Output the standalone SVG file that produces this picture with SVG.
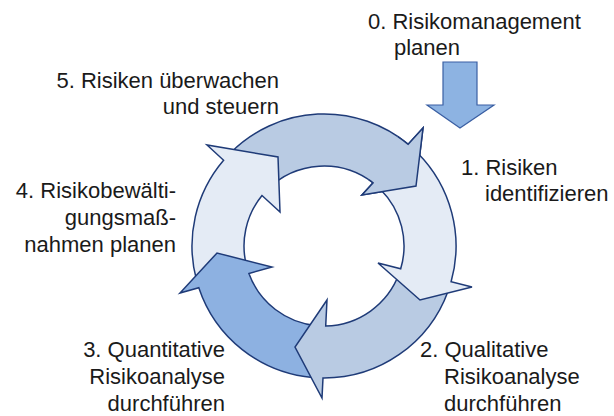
<svg xmlns="http://www.w3.org/2000/svg" width="614" height="416" viewBox="0 0 614 416">
<style>
.lbl{font-family:"Liberation Sans",Arial,sans-serif;font-size:22px;fill:#1a1a1a}
.r{text-anchor:end}
.arr{stroke:#1f3b78;stroke-width:1.5;stroke-linejoin:miter}
.med{fill:#b9cbe3}
.lite{fill:#e4ebf5}
.strong{fill:#8db1e1}
</style>
<rect width="614" height="416" fill="#ffffff"/>
<g id="connectors">
  <g id="arrow5">
    <path class="arr med" d="M 230.66 152.66 A 132 132 0 0 1 408.2 144.3 L 423 128 L 416 186 L 362 195 L 373.1 182.8 A 80 80 0 0 0 267.43 189.43 Z"/>
  </g>
  <g id="arrow4">
    <path class="arr lite" d="M 196.50 280.16 A 132 132 0 0 1 223.6 160.3 L 207 145 L 278 157 L 280 212 L 262.0 195.5 A 80 80 0 0 0 246.73 266.71 Z"/>
  </g>
  <g id="arrow3">
    <path class="arr strong" d="M 312.50 377.50 A 132 132 0 0 1 198.8 287.7 L 180 293 L 217 253 L 272 267 L 248.9 273.5 A 80 80 0 0 0 317.03 325.70 Z"/>
  </g>
  <g id="arrow2">
    <path class="arr med" d="M 448.04 291.15 A 132 132 0 0 1 323.0 378.0 L 322 398 L 295 347 L 327 300 L 325.7 326.0 A 80 80 0 0 0 399.18 273.36 Z"/>
  </g>
  <g id="arrow1">
    <path class="arr lite" d="M 417.34 152.66 A 132 132 0 0 1 451.1 281.7 L 472 287 L 420 300 L 378 263 L 400.7 268.8 A 80 80 0 0 0 380.57 189.43 Z"/>
  </g>
  <g id="arrow5-head">
    <path class="med" d="M 397.81 136.57 A 132 132 0 0 1 408.2 144.3 L 423 128 L 416 186 L 362 195 L 373.1 182.8 A 80 80 0 0 0 368.74 179.68 Z"/>
    <path class="arr" fill="none" d="M 397.81 136.57 A 132 132 0 0 1 408.2 144.3 L 423 128 L 416 186 L 362 195 L 373.1 182.8 A 80 80 0 0 0 368.74 179.68"/>
  </g>
  <g id="arrow0">
    <path d="M 443 62 L 477 62 L 477 105 L 494 105 L 460 128 L 427 105 L 443 105 Z" fill="#8db3e2" stroke="#3a5fa3" stroke-width="1.2"/>
  </g>
</g>
<g id="node0">
  <text class="lbl" x="368" y="29">0. Risikomanagement</text>
  <text class="lbl" x="394" y="55">planen</text>
</g>
<g id="node1">
  <text class="lbl" x="461" y="175">1. Risiken</text>
  <text class="lbl" x="485" y="201">identifizieren</text>
</g>
<g id="node2">
  <text class="lbl" x="420" y="357">2. Qualitative</text>
  <text class="lbl" x="444" y="384">Risikoanalyse</text>
  <text class="lbl" x="444" y="411">durchführen</text>
</g>
<g id="node3">
  <text class="lbl r" x="225" y="357">3. Quantitative</text>
  <text class="lbl r" x="225" y="384">Risikoanalyse</text>
  <text class="lbl r" x="225" y="411">durchführen</text>
</g>
<g id="node4">
  <text class="lbl r" x="176" y="198">4. Risikobewälti-</text>
  <text class="lbl r" x="176" y="225">gungsmaß-</text>
  <text class="lbl r" x="176" y="252">nahmen planen</text>
</g>
<g id="node5">
  <text class="lbl r" x="279" y="88">5. Risiken überwachen</text>
  <text class="lbl r" x="279" y="114">und steuern</text>
</g>
</svg>
